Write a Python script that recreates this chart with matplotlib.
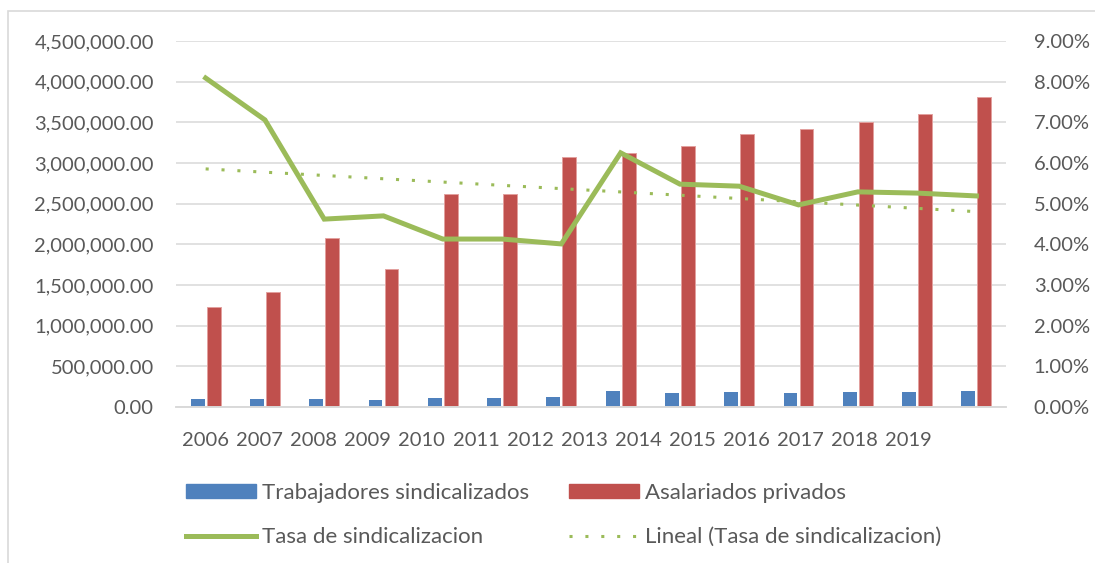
import numpy as np
import matplotlib
matplotlib.use("Agg")
import matplotlib.pyplot as plt
from matplotlib.patches import Patch, Rectangle
from matplotlib.lines import Line2D
from matplotlib.ticker import FuncFormatter, MultipleLocator

# --- data ---
years = [2006, 2007, 2008, 2009, 2010, 2011, 2012,
         2013, 2014, 2015, 2016, 2017, 2018, 2019]
sindicalizados = [98000, 98000, 98000, 85000, 110000, 110000, 125000,
                  200000, 170000, 185000, 170000, 185000, 185000, 200000]
asalariados = [1230000, 1415000, 2080000, 1700000, 2620000, 2620000, 3075000,
               3120000, 3210000, 3360000, 3420000, 3510000, 3600000, 3810000]
tasa = [8.09, 7.06, 4.62, 4.70, 4.13, 4.13, 4.01,
        6.25, 5.48, 5.43, 4.97, 5.29, 5.26, 5.19]
year_labels = [str(y) for y in years]

# --- style ---
BLUE = "#4F81BD"
RED = "#C0504D"
GREEN = "#9BBB59"
GRID = "#D9D9D9"
TEXT = "#595959"
TICK_FONT = 14.5
LEG_FONT = 16
LABEL_STEP = 0.912   # category labels in the source are packed tighter than the bars

plt.rcParams["font.family"] = ["Lato", "DejaVu Sans"]
plt.rcParams["text.color"] = TEXT

fig = plt.figure(figsize=(10.95, 5.63), dpi=100)
ax = fig.add_axes([176 / 1095, 1 - 407 / 563, 830 / 1095, 366 / 563])
ax2 = ax.twinx()

x = np.arange(len(years))
w = 0.235
ax.bar(x - 0.135, sindicalizados, width=w, color=BLUE, zorder=2)
ax.bar(x + 0.135, asalariados, width=w, color=RED, edgecolor="#E3A09E",
       linewidth=0.7, zorder=2)

# rate line and its linear trend (what excel draws as "Lineal")
ax2.plot(x, tasa, color=GREEN, linewidth=3.6, solid_joinstyle="miter", zorder=3)
coef = np.polyfit(x, tasa, 1)
ax2.plot(x, np.polyval(coef, x), color=GREEN, linewidth=2.2,
         linestyle=(0, (1, 4.2)), dash_capstyle="butt", zorder=3)

# axes
ax.set_xlim(-0.5, len(years) - 0.5)
ax.set_ylim(0, 4500000)
ax2.set_ylim(0, 9)
ax.yaxis.set_major_locator(MultipleLocator(500000))
ax2.yaxis.set_major_locator(MultipleLocator(1))
ax.yaxis.set_major_formatter(FuncFormatter(lambda v, p: f"{v:,.2f}"))
ax2.yaxis.set_major_formatter(FuncFormatter(lambda v, p: f"{v:.2f}%"))

ax.set_xticks(np.arange(len(years)) * LABEL_STEP)
ax.set_xticklabels(year_labels)

ax.grid(axis="y", color=GRID, linewidth=1.1)
ax.set_axisbelow(True)
for a in (ax, ax2):
    for s in ("top", "left", "right"):
        a.spines[s].set_visible(False)
    a.spines["bottom"].set_color(GRID)
    a.spines["bottom"].set_linewidth(1.2)
ax.tick_params(axis="x", length=0, pad=18, labelsize=TICK_FONT, labelcolor=TEXT)
ax.tick_params(axis="y", length=0, pad=16, labelsize=TICK_FONT, labelcolor=TEXT)
ax2.tick_params(axis="y", length=0, pad=20, labelsize=TICK_FONT, labelcolor=TEXT)

# legend
handles = [
    Patch(color=BLUE),
    Line2D([], [], color=GREEN, linewidth=3.6),
    Patch(color=RED),
    Line2D([], [], color=GREEN, linewidth=2.2, linestyle=(0, (1, 4.2)),
           dash_capstyle="butt"),
]
labels = ["Trabajadores sindicalizados", "Tasa de sindicalizacion",
          "Asalariados privados", "Lineal (Tasa de sindicalizacion)"]
fig.legend(handles, labels, ncol=2, loc="center left",
           bbox_to_anchor=(186 / 1095, 1 - 515 / 563),
           frameon=False, fontsize=LEG_FONT, borderpad=0, borderaxespad=0,
           handlelength=3.15, handleheight=0.585, handletextpad=0.27,
           columnspacing=1.8, labelspacing=1.1)

# light frame round the chart area
fig.add_artist(Rectangle((8 / 1095, -0.1), 1.2, 1 - 11 / 563 + 0.1,
                         transform=fig.transFigure, fill=False,
                         edgecolor=GRID, linewidth=1.2))

fig.savefig("out.png", dpi=100)
